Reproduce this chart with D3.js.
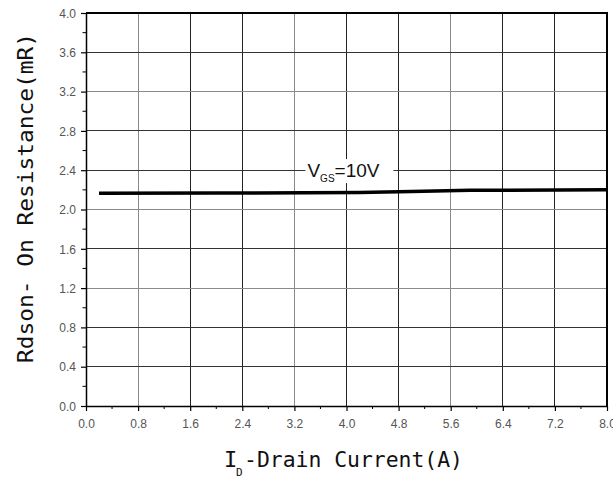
<!DOCTYPE html>
<html lang="en">
<head>
  <meta charset="UTF-8">
  <title>Rdson vs ID</title>
  <script src="https://cdn.jsdelivr.net/npm/d3@7"></script>
  <style>
    body { margin: 0; background: #fff; }
    svg { display: block; }
  </style>
</head>
<body>
<svg></svg>
<script>
  const width = 613, height = 478
  const margin = {top: 13, right: 6, bottom: 72, left: 86}

  // data
  const current = [0.2, 2.0, 4.2, 5.0, 5.9, 8.0]
  const rdson = [2.165, 2.167, 2.172, 2.182, 2.195, 2.2]
  const xTicks = [0.0, 0.8, 1.6, 2.4, 3.2, 4.0, 4.8, 5.6, 6.4, 7.2, 8.0]
  const yTicks = [0.0, 0.4, 0.8, 1.2, 1.6, 2.0, 2.4, 2.8, 3.2, 3.6, 4.0]
  // grid lines that come out lighter in the original scan
  const lightX = [0.8, 3.2, 5.6]
  const lightY = [3.2, 2.0, 1.2]

  const svg = d3.select('svg')
      .attr('width', width)
      .attr('height', height)

  const x = d3.scaleLinear()
      .domain([0, 8])
      .range([margin.left, width - margin.right])

  const y = d3.scaleLinear()
      .domain([0, 4])
      .range([height - margin.bottom, margin.top])

  // grid
  svg.append('g')
    .selectAll('line')
    .data(xTicks.slice(1, -1))
    .join('line')
      .attr('x1', d => x(d)).attr('x2', d => x(d))
      .attr('y1', y(0)).attr('y2', y(4))
      .attr('stroke', d => lightX.includes(d) ? '#8a8a8a' : '#222')
      .attr('stroke-width', 1)
      .attr('shape-rendering', 'crispEdges')

  svg.append('g')
    .selectAll('line')
    .data(yTicks.slice(1, -1))
    .join('line')
      .attr('x1', x(0)).attr('x2', x(8))
      .attr('y1', d => y(d)).attr('y2', d => y(d))
      .attr('stroke', d => lightY.includes(d) ? '#8a8a8a' : '#333')
      .attr('stroke-width', 1)
      .attr('shape-rendering', 'crispEdges')

  // data line
  const pts = current.map((c, i) => [c, rdson[i]])
  const line = d3.line()
      .x(d => x(d[0]))
      .y(d => y(d[1]))

  svg.append('path')
      .attr('fill', 'none')
      .attr('stroke', '#000')
      .attr('stroke-width', 3.5)
      .attr('d', line(pts))

  // VGS label with white box
  const lab = svg.append('g')
      .attr('transform', `translate(${x(3.4)},${y(2.33)})`)
  lab.append('rect')
      .attr('x', -2).attr('y', -18)
      .attr('width', 88).attr('height', 24)
      .attr('fill', '#fff')
  const lt = lab.append('text')
      .attr('font-family', 'Liberation Sans, Arial, sans-serif')
      .attr('font-size', 19)
      .attr('fill', '#111')
  lt.append('tspan').text('V')
  lt.append('tspan').attr('font-size', 10).attr('dy', 5).text('GS')
  lt.append('tspan').attr('dy', -5).text('=10V')

  // axes
  const tickFont = 'Liberation Sans Narrow, Arial Narrow, Liberation Sans, sans-serif'

  const xAxis = svg.append('g')
      .attr('transform', `translate(0,${y(0)})`)
      .call(d3.axisBottom(x).tickValues(xTicks).tickFormat(d3.format('.1f')).tickSize(5).tickSizeOuter(0))
  xAxis.append('g')
    .selectAll('line')
    .data(d3.range(0.4, 8, 0.8))
    .join('line')
      .attr('x1', d => x(d)).attr('x2', d => x(d))
      .attr('y1', 0).attr('y2', 3)
      .attr('stroke', '#000')

  const yAxis = svg.append('g')
      .attr('transform', `translate(${x(0)},0)`)
      .call(d3.axisLeft(y).tickValues(yTicks).tickFormat(d3.format('.1f')).tickSize(5).tickSizeOuter(0))
  yAxis.append('g')
    .selectAll('line')
    .data(d3.range(0.2, 4, 0.4))
    .join('line')
      .attr('y1', d => y(d)).attr('y2', d => y(d))
      .attr('x1', 0).attr('x2', -3.5)
      .attr('stroke', '#000')

  for (const ax of [xAxis, yAxis]) {
    ax.select('.domain').attr('stroke', '#000').attr('stroke-width', 1.5)
    ax.selectAll('.tick line').attr('stroke', '#000').attr('stroke-width', 1.2)
    ax.selectAll('.tick text')
        .attr('font-family', tickFont)
        .attr('font-size', 12)
        .attr('fill', '#555')
  }
  xAxis.selectAll('.tick text').attr('dy', '1.2em')
  yAxis.selectAll('.tick text').attr('x', -10).attr('dy', '0.35em')

  // top and right frame
  svg.append('path')
      .attr('fill', 'none')
      .attr('stroke', '#000')
      .attr('stroke-width', 2)
      .attr('d', `M${x(0)},${y(4)}H${x(8)}V${y(0)}`)

  // axis titles
  const titleFont = 'DejaVu Sans Mono, Liberation Mono, monospace'

  svg.append('text')
      .attr('transform', 'translate(33,198) rotate(-90)')
      .attr('text-anchor', 'middle')
      .attr('font-family', titleFont)
      .attr('font-size', 22)
      .attr('textLength', 330)
      .attr('lengthAdjust', 'spacingAndGlyphs')
      .attr('fill', '#111')
      .text('Rdson- On Resistance(mR)')

  const xTitle = svg.append('g')
      .attr('font-family', titleFont)
      .attr('fill', '#111')
  xTitle.append('text')
      .attr('x', 224).attr('y', 467)
      .attr('font-size', 22)
      .text('I')
  xTitle.append('text')
      .attr('x', 236).attr('y', 476)
      .attr('font-size', 11)
      .text('D')
  xTitle.append('text')
      .attr('x', 244).attr('y', 467)
      .attr('font-size', 22)
      .attr('textLength', 219)
      .attr('lengthAdjust', 'spacingAndGlyphs')
      .text('-Drain Current(A)')
</script>
</body>
</html>
